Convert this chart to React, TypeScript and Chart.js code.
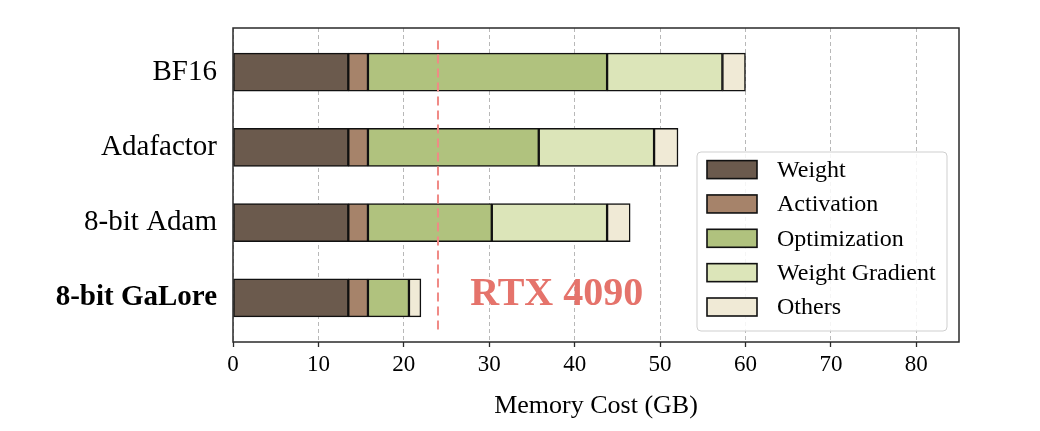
import { useEffect, useRef } from 'react'
import { Chart, registerables } from 'chart.js'
import type { Plugin } from 'chart.js'

Chart.register(...registerables)

const categories = ['BF16', 'Adafactor', '8-bit Adam', '8-bit GaLore']
const seriesNames = ['Weight', 'Activation', 'Optimization', 'Weight Gradient', 'Others']
const weight = [13.5, 13.5, 13.5, 13.5]
const activation = [2.3, 2.3, 2.3, 2.3]
const optimization = [28.0, 20.0, 14.5, 4.8]
const weightGradient = [13.5, 13.5, 13.5, 0]
const others = [2.7, 2.8, 2.7, 1.4]
const xTicks = [0, 10, 20, 30, 40, 50, 60, 70, 80]
const gpuLimit = 24
const gpuLabel = 'RTX 4090'

const colors = ['#6b5a4d', '#a6836a', '#b0c27e', '#dce5b9', '#f0ead6']
const SERIF = "'Liberation Serif', 'Times New Roman', serif"

// red limit line, label, legend box and the frame on top of the bars
const overlay: Plugin<'bar'> = {
  id: 'overlay',
  afterDatasetsDraw(chart) {
    const { ctx, chartArea: a } = chart
    const x = chart.scales.x
    const y = chart.scales.y

    ctx.save()
    ctx.strokeStyle = '#f08a86'
    ctx.lineWidth = 2
    ctx.setLineDash([9, 5])
    ctx.beginPath()
    ctx.moveTo(x.getPixelForValue(gpuLimit), y.getPixelForValue(-0.42))
    ctx.lineTo(x.getPixelForValue(gpuLimit), y.getPixelForValue(3.42))
    ctx.stroke()
    ctx.setLineDash([])

    ctx.font = `bold 40px ${SERIF}`
    ctx.fillStyle = '#e5736b'
    ctx.textAlign = 'center'
    ctx.textBaseline = 'middle'
    ctx.fillText(gpuLabel, x.getPixelForValue(37.9), y.getPixelForValue(2.95))

    // legend
    const w = 250
    const h = 179
    const left = a.right - 12 - w
    const top = a.bottom - 11 - h
    ctx.beginPath()
    ctx.roundRect(left, top, w, h, 4)
    ctx.fillStyle = 'rgba(255,255,255,0.85)'
    ctx.fill()
    ctx.strokeStyle = '#cfcfcf'
    ctx.lineWidth = 1
    ctx.stroke()

    ctx.font = `24px ${SERIF}`
    ctx.textAlign = 'left'
    chart.data.datasets.forEach((ds, i) => {
      const cy = top + 17.6 + i * 34.35
      ctx.fillStyle = ds.backgroundColor as string
      ctx.fillRect(left + 10, cy - 9, 50, 18)
      ctx.strokeStyle = '#111'
      ctx.lineWidth = 1.6
      ctx.strokeRect(left + 10, cy - 9, 50, 18)
      ctx.fillStyle = '#000'
      ctx.fillText(ds.label as string, left + 80, cy + 1)
    })

    ctx.strokeStyle = '#2a2a2a'
    ctx.lineWidth = 1.5
    ctx.strokeRect(a.left, a.top, a.width, a.height)
    ctx.restore()
  }
}

export default function App() {
  const canvasRef = useRef<HTMLCanvasElement>(null)

  useEffect(() => {
    if (!canvasRef.current) return
    const ctx = canvasRef.current.getContext('2d')
    if (!ctx) return

    const series = [weight, activation, optimization, weightGradient, others]

    const chart = new Chart(ctx, {
      type: 'bar',
      data: {
        datasets: series.map((values, s) => ({
          label: seriesNames[s],
          data: values.map((v, i) => ({ x: v, y: i })),
          backgroundColor: colors[s],
          borderColor: '#111',
          borderWidth: 1.5,
          borderSkipped: false,
          barThickness: 38
        }))
      },
      options: {
        indexAxis: 'y',
        animation: false,
        responsive: true,
        maintainAspectRatio: false,
        layout: { padding: { top: 28, right: 81, left: 0, bottom: 0 } },
        scales: {
          x: {
            type: 'linear',
            min: 0,
            max: 85,
            stacked: true,
            afterBuildTicks: (scale) => {
              scale.ticks = xTicks.map(v => ({ value: v }))
            },
            afterFit: (scale) => {
              scale.height = 89
            },
            grid: {
              color: '#b8b8b8',
              lineWidth: 1,
              drawTicks: true,
              tickLength: 5,
              tickColor: '#2a2a2a',
              tickWidth: 1.3
            },
            border: { display: false, dash: [4, 3] },
            ticks: {
              font: { family: SERIF, size: 23 },
              color: '#000',
              padding: 4,
              maxRotation: 0
            },
            title: {
              display: true,
              text: 'Memory Cost (GB)',
              font: { family: SERIF, size: 26 },
              color: '#000',
              padding: { top: 0, bottom: 9 }
            }
          },
          y: {
            type: 'linear',
            reverse: true,
            offset: false,
            min: -0.585,
            max: 3.585,
            stacked: true,
            afterBuildTicks: (scale) => {
              scale.ticks = categories.map((_, i) => ({ value: i }))
            },
            afterFit: (scale) => {
              scale.width = 233
              scale.paddingTop = 0
              scale.paddingBottom = 0
            },
            grid: { display: false, drawTicks: false, offset: false },
            border: { display: false },
            ticks: {
              callback: (v) => categories[Number(v)] ?? '',
              font: (c) => ({
                family: SERIF,
                size: 29,
                weight: c.tick && c.tick.value === 3 ? 'bold' : 'normal'
              }),
              color: '#000',
              padding: 16
            }
          }
        },
        plugins: {
          legend: { display: false },
          tooltip: { enabled: false }
        }
      },
      plugins: [overlay]
    })

    return () => {
      chart.destroy()
    }
  }, [])

  return (
    <div style={{ position: 'fixed', left: 0, top: 0, width: 1040, height: 431, background: '#fff' }}>
      <canvas ref={canvasRef} />
    </div>
  )
}
